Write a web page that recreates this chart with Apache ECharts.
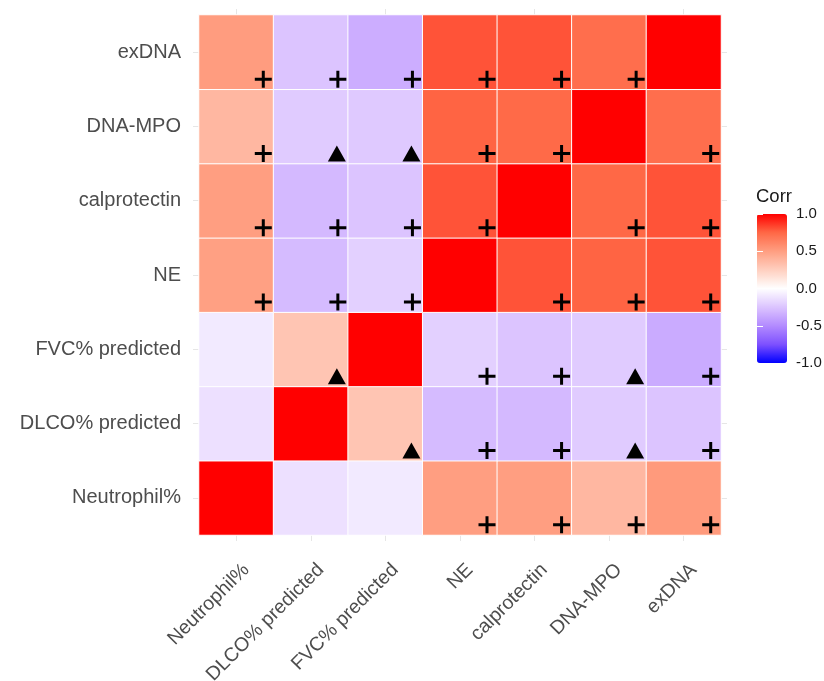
<!DOCTYPE html>
<html><head><meta charset="utf-8">
<script src="https://cdn.jsdelivr.net/npm/echarts@6/dist/echarts.min.js"></script>
<style>html,body{margin:0;padding:0;background:#fff}#c{width:824px;height:681px}</style>
</head><body><div id="c"></div>
<script>
// variables (x columns left->right, y rows bottom->top)
const variables = ['Neutrophil%', 'DLCO% predicted', 'FVC% predicted', 'NE', 'calprotectin', 'DNA-MPO', 'exDNA'];

// correlation rows (one per y variable), columns in the order of `variables`
const corrNeutrophil   = [1.00, -0.13, -0.09, 0.50, 0.50, 0.37, 0.52];
const corrDLCO         = [-0.13, 1.00, 0.30, -0.29, -0.30, -0.22, -0.25];
const corrFVC          = [-0.09, 0.30, 1.00, -0.20, -0.25, -0.22, -0.36];
const corrNE           = [0.49, -0.29, -0.20, 1.00, 0.80, 0.76, 0.80];
const corrCalprotectin = [0.50, -0.30, -0.25, 0.80, 1.00, 0.75, 0.80];
const corrDNAMPO       = [0.37, -0.22, -0.23, 0.76, 0.74, 1.00, 0.72];
const corrExDNA        = [0.51, -0.25, -0.35, 0.80, 0.80, 0.72, 1.00];

// significance marks per cell: '+' or '^' (triangle) or ''
const sigNeutrophil   = ['', '', '', '+', '+', '+', '+'];
const sigDLCO         = ['', '', '^', '+', '+', '^', '+'];
const sigFVC          = ['', '^', '', '+', '+', '^', '+'];
const sigNE           = ['+', '+', '+', '', '+', '+', '+'];
const sigCalprotectin = ['+', '+', '+', '+', '', '+', '+'];
const sigDNAMPO       = ['+', '^', '^', '+', '+', '', '+'];
const sigExDNA        = ['+', '+', '+', '+', '+', '+', ''];

const legendTitle = 'Corr';
const legendMin = -1, legendMax = 1, legendStep = 0.5;

const corrRows = [corrNeutrophil, corrDLCO, corrFVC, corrNE, corrCalprotectin, corrDNAMPO, corrExDNA];
const sigRows = [sigNeutrophil, sigDLCO, sigFVC, sigNE, sigCalprotectin, sigDNAMPO, sigExDNA];

const heatData = [], plusData = [], triData = [];
corrRows.forEach((row, y) => row.forEach((v, x) => heatData.push([x, y, v])));
sigRows.forEach((row, y) => row.forEach((s, x) => {
  if (s === '+') plusData.push([x, y]);
  else if (s === '^') triData.push([x, y]);
}));

const FONT = "'Liberation Sans', Arial, sans-serif";
const gridTick = { show: true, alignWithLabel: true, length: 6, lineStyle: { color: '#E6E6E6', width: 1 } };
const PLUS = 'path://M7,0H10V7H17V10H10V17H7V10H0V7H7Z';

const chart = echarts.init(document.getElementById('c'), null, { renderer: 'canvas' });
chart.setOption({
  animation: false,
  backgroundColor: '#fff',
  textStyle: { fontFamily: FONT },
  title: {
    text: legendTitle, left: 756, top: 187, padding: 0,
    textStyle: { fontSize: 18.5, fontWeight: 'normal', color: '#1a1a1a', fontFamily: FONT }
  },
  grid: [
    { left: 199, top: 15, width: 522, height: 520, containLabel: false, outerBoundsMode: 'none' },
    { left: 757, top: 214, width: 30, height: 149, containLabel: false, outerBoundsMode: 'none' }
  ],
  xAxis: [
    { type: 'category', gridIndex: 0, data: variables, position: 'bottom',
      axisLine: { show: false }, axisTick: gridTick, splitLine: { show: false },
      axisLabel: { interval: 0, rotate: 45, fontSize: 19.5, color: '#4D4D4D', margin: 22,
        verticalAlign: 'top', lineHeight: 20, padding: [4, 0, 0, 0], fontFamily: FONT } },
    { type: 'category', gridIndex: 0, data: variables, position: 'top',
      axisLine: { show: false }, axisTick: gridTick, axisLabel: { show: false } },
    { type: 'value', gridIndex: 1, show: false, min: 0, max: 1 }
  ],
  yAxis: [
    { type: 'category', gridIndex: 0, data: variables, position: 'left',
      axisLine: { show: false }, axisTick: gridTick, splitLine: { show: false },
      axisLabel: { interval: 0, fontSize: 20, color: '#4D4D4D', margin: 18, fontFamily: FONT } },
    { type: 'category', gridIndex: 0, data: variables, position: 'right',
      axisLine: { show: false }, axisTick: gridTick, axisLabel: { show: false } },
    { type: 'value', gridIndex: 1, position: 'right', min: legendMin, max: legendMax, interval: legendStep, z: 10,
      axisLine: { show: false }, splitLine: { show: false },
      axisTick: { show: true, inside: true, length: 6, lineStyle: { color: '#fff', width: 1 } },
      axisLabel: { fontSize: 15, color: '#1a1a1a', margin: 9, fontFamily: FONT, formatter: v => v.toFixed(1) } },
    { type: 'value', gridIndex: 1, position: 'left', min: legendMin, max: legendMax, interval: legendStep, z: 10,
      axisLine: { show: false }, splitLine: { show: false },
      axisTick: { show: true, inside: true, length: 6, lineStyle: { color: '#fff', width: 1 } },
      axisLabel: { show: false } }
  ],
  visualMap: {
    type: 'continuous', seriesIndex: 0, min: legendMin, max: legendMax,
    calculable: false, realtime: false, hoverLink: false,
    left: 757, top: 214, itemWidth: 30, itemHeight: 149, text: null, padding: 0,
    inRange: { color: ['#0000FF', '#7E51FF', '#B38BFF', '#DCC4FF', '#FFFFFF', '#FFCFBF', '#FF9E81', '#FF6846', '#FF0000'] }
  },
  series: [
    { type: 'heatmap', xAxisIndex: 0, yAxisIndex: 0, data: heatData,
      itemStyle: { borderColor: '#ffffff', borderWidth: 1 },
      emphasis: { disabled: true }, label: { show: false } },
    { type: 'scatter', xAxisIndex: 0, yAxisIndex: 0, data: plusData, z: 5,
      symbol: PLUS, symbolSize: [17, 17], symbolOffset: [27, 27],
      itemStyle: { color: '#000', opacity: 1 }, emphasis: { disabled: true } },
    { type: 'scatter', xAxisIndex: 0, yAxisIndex: 0, data: triData, z: 5,
      symbol: 'triangle', symbolSize: [18, 16], symbolOffset: [26, 27],
      itemStyle: { color: '#000', opacity: 1 }, emphasis: { disabled: true } }
  ]
});
</script></body></html>
